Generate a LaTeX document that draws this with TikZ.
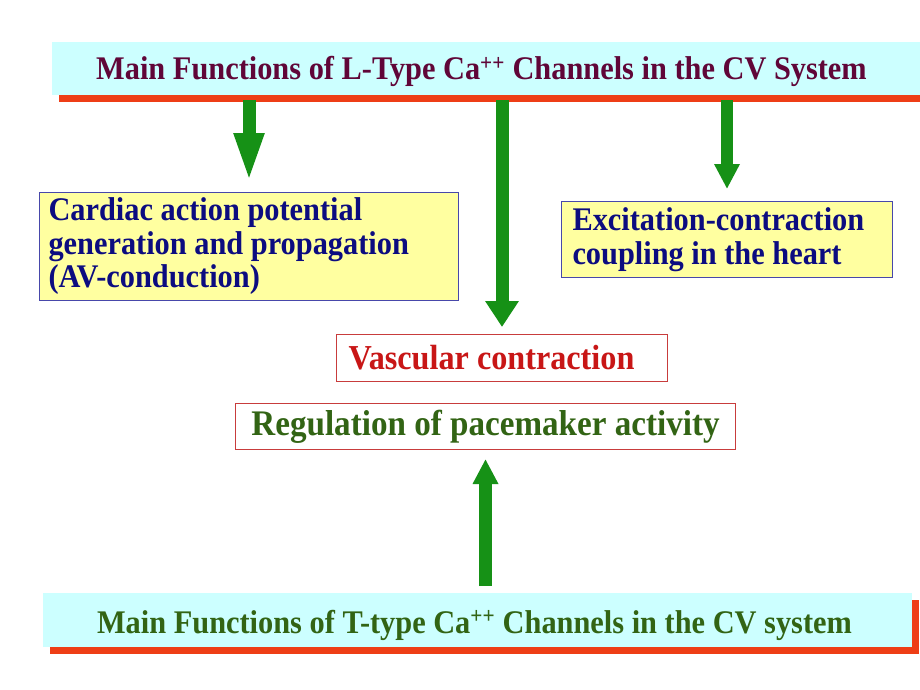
\documentclass[tikz,border=0pt]{standalone}
\usepackage{fontspec}
\setmainfont{Liberation Serif}[FakeStretch=0.92]
\usetikzlibrary{arrows.meta,shadows}
\definecolor{cyanfill}{RGB}{204,255,255}
\definecolor{shadowred}{RGB}{238,62,22}
\definecolor{maroontxt}{RGB}{96,6,56}
\definecolor{boxyellow}{RGB}{255,255,160}
\definecolor{navytxt}{RGB}{12,12,128}
\definecolor{navyborder}{RGB}{72,72,170}
\definecolor{redtxt}{RGB}{200,22,22}
\definecolor{redborder}{RGB}{200,60,60}
\definecolor{greentxt}{RGB}{50,100,20}
\definecolor{arrowgreen}{RGB}{22,145,22}
\newcommand\natsp{\spaceskip=0pt\xspaceskip=0pt\relax}
\tikzset{
  banner/.style={draw=none, fill=cyanfill, anchor=north west, inner sep=0pt,
    general shadow={fill=shadowred, shadow xshift=7pt, shadow yshift=-7pt}},
  titletxt/.style={anchor=base, inner sep=0pt, font=\fontsize{33}{36}\selectfont\bfseries},
  ybox/.style={draw=navyborder, line width=1pt, fill=boxyellow, anchor=north west,
    inner sep=0pt, align=left, text=navytxt, font=\fontsize{33}{33}\selectfont\bfseries},
  wbox/.style={draw=redborder, line width=1pt, fill=white, anchor=north west, inner sep=0pt},
  garrow/.style={draw=arrowgreen, line width=13pt},
}
\begin{document}
\begin{tikzpicture}[x=1pt,y=-1pt]
\useasboundingbox[fill=white] (0,0) rectangle (920,690);
% banners
\node[banner, minimum width=890pt, minimum height=53pt] (top) at (52,42) {};
\node[banner, minimum width=869pt, minimum height=54pt] (bot) at (43,593) {};
\node[titletxt, text=maroontxt] (toptitle) at (481.5,80) {Main Functions of L-Type Ca\textsuperscript{++} Channels in the CV System};
\node[titletxt, text=greentxt] (bottitle) at (474.5,633) {Main Functions of T-type Ca\textsuperscript{++} Channels in the CV system};
% boxes
\node[ybox, minimum width=419pt, minimum height=108pt, text width=401pt, inner xsep=9pt] (b1) at (39,192)
  {\natsp Cardiac action potential\\[0.5pt]\natsp generation and propagation\\[0.5pt]\natsp(AV-conduction)};
\node[ybox, minimum width=331pt, minimum height=76pt, text width=309pt, inner xsep=11pt] (b2) at (561,201)
  {\natsp Excitation-contraction\\[1pt]\natsp coupling in the heart};
\node[wbox, minimum width=331pt, minimum height=47pt, text width=307pt, inner xsep=12pt, align=left,
  text=redtxt, font=\fontsize{35}{35}\selectfont\bfseries] (vasc) at (336,334) {\natsp Vascular contraction};
\node[wbox, minimum width=500pt, minimum height=46pt, align=center,
  text=greentxt, font=\fontsize{36}{36}\selectfont\bfseries] (reg) at (235,403) {Regulation of pacemaker activity};
% arrows
\draw[garrow, -{Triangle[width=27pt,length=50pt]}] ([yshift=-5pt]top.south -| b1.north) -- ([yshift=9pt]b1.north);
\draw[garrow, -{Triangle[width=32pt,length=26pt]}] ([yshift=-5pt]top.south -| vasc.north) -- ([yshift=7pt]vasc.north);
\draw[garrow, line width=12pt, -{Triangle[width=24pt,length=25pt]}] ([yshift=-5pt]top.south -| b2.north) -- ([yshift=12pt]b2.north);
\draw[garrow, -{Triangle[width=24pt,length=25pt]}] ([yshift=7pt]bot.north -| reg.south) -- ([yshift=-9pt]reg.south);
\end{tikzpicture}
\end{document}
